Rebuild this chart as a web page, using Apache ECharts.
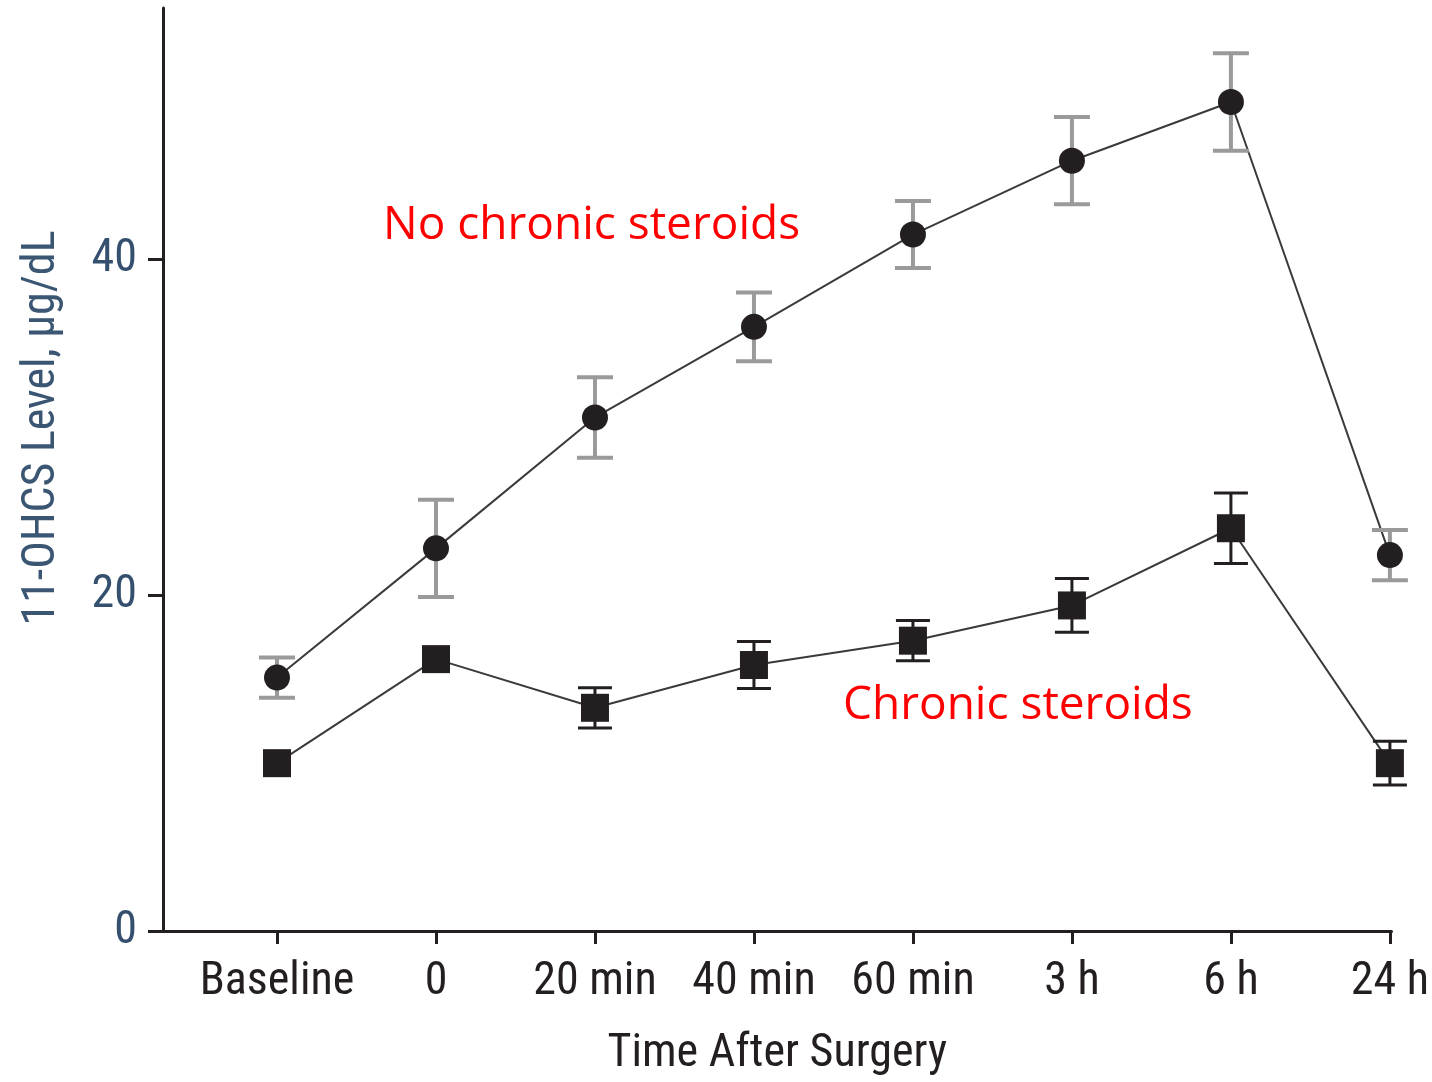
<!DOCTYPE html>
<html>
<head>
<meta charset="utf-8">
<script src="https://cdn.jsdelivr.net/npm/echarts@6/dist/echarts.min.js"></script>
<style>html,body{margin:0;padding:0;background:#fff;overflow:hidden}#c{width:1432px;height:1082px}</style>
</head>
<body>
<div id="c"></div>
<script>
const categories = ['Baseline', '0', '20 min', '40 min', '60 min', '3 h', '6 h', '24 h'];
const noSteroidMean = [15.1, 22.8, 30.6, 36.0, 41.5, 45.9, 49.4, 22.4];
const noSteroidErr  = [1.2, 2.9, 2.4, 2.05, 2.0, 2.6, 2.9, 1.5];
const steroidMean   = [10.0, 16.2, 13.3, 15.85, 17.3, 19.4, 24.0, 10.0];
const steroidErr    = [0, 0, 1.2, 1.4, 1.2, 1.6, 2.1, 1.3];
const yTicks = [0, 20, 40];
const xTicks = [0, 1, 2, 3, 4, 5, 6, 7];

const FONT = '"Roboto Condensed", "Liberation Sans", sans-serif';

function pts(arr) { return arr.map((v, i) => [i, v]); }
function errData(mean, err) { return mean.map((v, i) => [i, v - err[i], v + err[i]]); }

function errRender(color, capHalf, w) {
  return function (params, api) {
    const lo = api.value(1), hi = api.value(2);
    if (hi - lo <= 0) return null;
    const p1 = api.coord([api.value(0), hi]);
    const p2 = api.coord([api.value(0), lo]);
    const st = { stroke: color, lineWidth: w };
    return {
      type: 'group',
      children: [
        { type: 'line', shape: { x1: p1[0], y1: p1[1], x2: p2[0], y2: p2[1] }, style: st },
        { type: 'line', shape: { x1: p1[0] - capHalf, y1: p1[1], x2: p1[0] + capHalf, y2: p1[1] }, style: st },
        { type: 'line', shape: { x1: p2[0] - capHalf, y1: p2[1], x2: p2[0] + capHalf, y2: p2[1] }, style: st }
      ]
    };
  };
}

const chart = echarts.init(document.getElementById('c'));
chart.setOption({
  animation: false,
  backgroundColor: '#fff',
  grid: { left: 163, right: 39, top: 8, bottom: 147, containLabel: false },
  xAxis: {
    type: 'value', min: -0.717, max: 7.01,
    splitLine: { show: false },
    axisLine: { show: true, onZero: false, lineStyle: { color: '#231f20', width: 3 } },
    axisTick: { show: true, length: 13, customValues: xTicks, lineStyle: { color: '#231f20', width: 3 } },
    axisLabel: {
      customValues: xTicks, margin: 28,
      formatter: v => categories[Math.round(v)],
      color: '#231f20', fontFamily: FONT, fontSize: 46
    },
    name: 'Time After Surgery', nameLocation: 'middle', nameGap: 100,
    nameTextStyle: { color: '#231f20', fontFamily: FONT, fontSize: 46 }
  },
  yAxis: {
    type: 'value', min: 0, max: 55,
    splitLine: { show: false },
    axisLine: { show: true, onZero: false, lineStyle: { color: '#231f20', width: 3 } },
    axisTick: { show: true, length: 15, customValues: yTicks, lineStyle: { color: '#231f20', width: 3 } },
    axisLabel: { customValues: yTicks, margin: 26, color: '#34506e', fontFamily: FONT, fontSize: 46 }
  },
  graphic: [
    { type: 'text', x: 42, y: 428, rotation: Math.PI / 2,
      style: { text: '11-OHCS Level, µg/dL', fill: '#3a5673', font: '46px ' + FONT, align: 'center', verticalAlign: 'middle' } },
    { type: 'text', left: 383, top: 203,
      style: { text: 'No chronic steroids', fill: '#ff0000', font: '46px "Open Sans", "Noto Sans", sans-serif' } },
    { type: 'text', left: 843, top: 683,
      style: { text: 'Chronic steroids', fill: '#ff0000', font: '46px "Open Sans", "Noto Sans", sans-serif' } }
  ],
  series: [
    { type: 'line', data: pts(noSteroidMean), symbol: 'none', z: 1,
      lineStyle: { color: '#3a3a3a', width: 2 } },
    { type: 'line', data: pts(steroidMean), symbol: 'none', z: 1,
      lineStyle: { color: '#3a3a3a', width: 2 } },
    { type: 'custom', data: errData(noSteroidMean, noSteroidErr), z: 2,
      renderItem: errRender('#9a9a9a', 18, 4), encode: { x: 0, y: [1, 2] } },
    { type: 'custom', data: errData(steroidMean, steroidErr), z: 2,
      renderItem: errRender('#231f20', 17, 3), encode: { x: 0, y: [1, 2] } },
    { type: 'scatter', data: pts(noSteroidMean), symbol: 'circle', symbolSize: 26, z: 3,
      itemStyle: { color: '#231f20', opacity: 1 } },
    { type: 'scatter', data: pts(steroidMean), symbol: 'rect', symbolSize: 28, z: 3,
      itemStyle: { color: '#231f20', opacity: 1 } }
  ]
});
</script>
</body>
</html>
